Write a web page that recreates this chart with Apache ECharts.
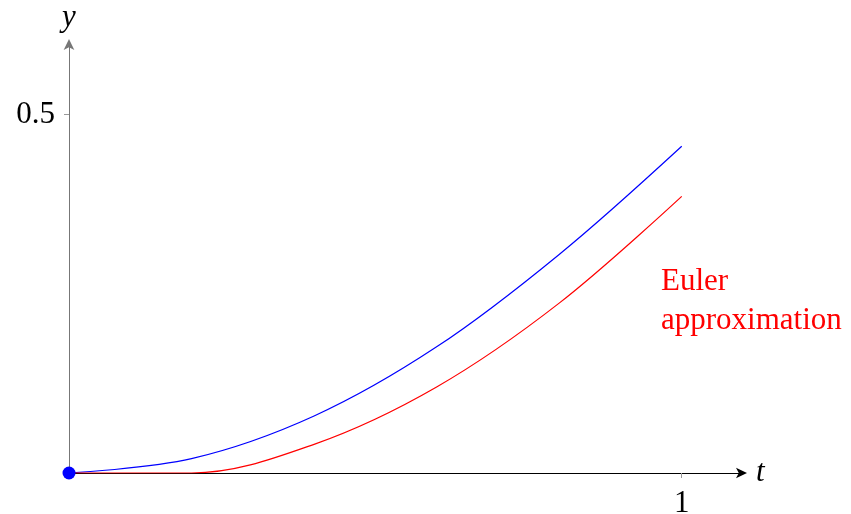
<!DOCTYPE html>
<html>
<head>
<meta charset="utf-8">
<script src="https://cdn.jsdelivr.net/npm/echarts@6/dist/echarts.min.js"></script>
<style>
  html, body { margin: 0; padding: 0; background: #fff; }
  #chart { width: 851px; height: 514px; }
</style>
</head>
<body>
<div id="chart"></div>
<script>
// Solution of y' = t - y^2, y(0) = 0, sampled with step 0.2
const tValues = [0, 0.2, 0.4, 0.6, 0.8, 1.0];
const exactY = [0, 0.020, 0.0795, 0.176, 0.305, 0.456];
const eulerY = [0, 0, 0.040, 0.120, 0.237, 0.386];
const initialPoint = [0, 0];
const xTicks = [1];
const yTicks = [0.5];

const FONT = '"Liberation Serif", "DejaVu Serif", serif';
const FS = 31;

const pairs = (ys) => tValues.map((t, i) => [t, ys[i]]);

const grid = { left: 69, top: 43, width: 674, height: 430, outerBoundsMode: 'none', containLabel: false };

function makeX(inside, showLabels) {
  return {
    type: 'value', min: 0, max: 1.1, gridIndex: 0,
    axisLine: showLabels ? {
      show: true, onZero: false,
      lineStyle: { color: '#000', width: 1 },
      symbol: ['none', 'arrow'], symbolSize: [8, 11], symbolOffset: [0, 4]
    } : { show: false },
    axisTick: {
      show: true, inside: inside, length: 5,
      customValues: xTicks,
      lineStyle: { color: '#999', width: 1 }
    },
    axisLabel: {
      show: showLabels, customValues: xTicks,
      fontFamily: FONT, fontSize: FS, color: '#000', margin: 15
    },
    splitLine: { show: false },
    name: showLabels ? 't' : '',
    nameLocation: 'end', nameGap: 13,
    nameTextStyle: { fontFamily: FONT, fontStyle: 'italic', fontSize: FS, color: '#000', verticalAlign: 'middle', padding: [4, 0, 0, 0] }
  };
}

function makeY(inside, showLabels) {
  return {
    type: 'value', min: 0, max: 0.6, gridIndex: 0,
    axisLine: showLabels ? {
      show: true, onZero: false,
      lineStyle: { color: '#777', width: 1 },
      symbol: ['none', 'arrow'], symbolSize: [8, 11], symbolOffset: [0, 4]
    } : { show: false },
    axisTick: {
      show: true, inside: inside, length: 5,
      customValues: yTicks,
      lineStyle: { color: '#999', width: 1 }
    },
    axisLabel: {
      show: showLabels, customValues: yTicks,
      fontFamily: FONT, fontSize: FS, color: '#000', margin: 14
    },
    splitLine: { show: false },
    name: showLabels ? 'y' : '',
    nameLocation: 'end', nameGap: 10,
    nameTextStyle: { fontFamily: FONT, fontStyle: 'italic', fontSize: FS, color: '#000', align: 'center' }
  };
}

const chart = echarts.init(document.getElementById('chart'), null, { renderer: 'canvas' });
chart.setOption({
  animation: false,
  backgroundColor: '#fff',
  grid: grid,
  xAxis: [makeX(false, true), makeX(true, false)],
  yAxis: [makeY(false, true), makeY(true, false)],
  series: [
    {
      name: 'exact', type: 'line', xAxisIndex: 0, yAxisIndex: 0,
      data: pairs(exactY), smooth: 0.35, showSymbol: false,
      lineStyle: { color: '#0000ff', width: 1.2 }
    },
    {
      name: 'Euler approximation', type: 'line', xAxisIndex: 0, yAxisIndex: 0,
      data: pairs(eulerY), smooth: 0.35, showSymbol: false,
      lineStyle: { color: '#ff0000', width: 1.2 }
    },
    {
      name: 'initial', type: 'scatter', xAxisIndex: 0, yAxisIndex: 0,
      data: [initialPoint], symbol: 'circle', symbolSize: 13,
      itemStyle: { color: '#0000ff', opacity: 1 }, z: 5
    }
  ],
  graphic: [
    {
      type: 'text', left: 661, top: 262,
      style: {
        text: 'Euler\napproximation',
        font: FS + 'px ' + FONT, fill: '#ff0000', lineHeight: 39
      }
    }
  ]
});
</script>
</body>
</html>
